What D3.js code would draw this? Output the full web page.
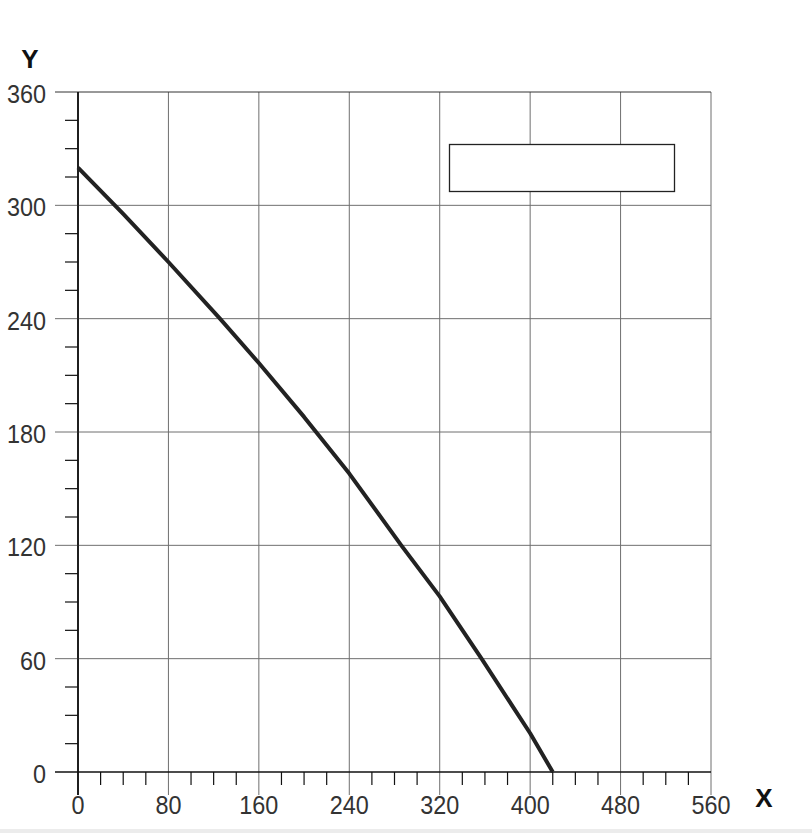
<!DOCTYPE html>
<html>
<head>
<meta charset="utf-8">
<script src="https://cdn.jsdelivr.net/npm/d3@7"></script>
<style>
  html, body { margin: 0; padding: 0; background: #fff; }
  svg { display: block; }
</style>
</head>
<body>
<script>
// Data
const curveX = [0, 40, 80, 125.6, 160, 200, 240, 286, 320, 357, 400, 420];
const curveY = [320, 295.5, 270, 240, 216.5, 188, 158, 120, 93, 60, 20.5, 0];
const xTicks = [0, 80, 160, 240, 320, 400, 480, 560];
const yTicks = [0, 60, 120, 180, 240, 300, 360];
const xMinor = d3.range(0, 561, 20);
const yMinor = d3.range(0, 361, 15);
const xTitle = "X";
const yTitle = "Y";

const W = 812, H = 833;
const svg = d3.select("body").append("svg").attr("width", W).attr("height", H);
svg.append("rect").attr("width", W).attr("height", H).attr("fill", "#fff");
svg.append("rect").attr("x", 0).attr("y", 829).attr("width", W).attr("height", 4).attr("fill", "#ececec");

const x = d3.scaleLinear().domain([0, 560]).range([78, 711]);
const y = d3.scaleLinear().domain([0, 360]).range([772, 92]);

const gridColor = "#6f6f6f";
const font = "Liberation Sans, Arial, sans-serif";
const sx = 0.9; // slight horizontal condensing of labels

// vertical grid lines (extend below axis as major ticks)
svg.append("g").selectAll("line").data(xTicks).join("line")
  .attr("x1", d => x(d)).attr("x2", d => x(d))
  .attr("y1", y(360)).attr("y2", y(0) + 23)
  .attr("stroke", d => d === 0 ? "#111" : gridColor)
  .attr("stroke-width", d => d === 0 ? 1.5 : 1);

// horizontal grid lines (extend left as major ticks)
svg.append("g").selectAll("line").data(yTicks).join("line")
  .attr("y1", d => y(d)).attr("y2", d => y(d))
  .attr("x1", x(0) - 23).attr("x2", x(560))
  .attr("stroke", d => d === 0 ? "#111" : (d === 360 ? "#333" : gridColor))
  .attr("stroke-width", d => d === 0 ? 1.5 : 1);

// minor ticks
svg.append("g").selectAll("line").data(xMinor.filter(d => d % 80 !== 0)).join("line")
  .attr("x1", d => x(d)).attr("x2", d => x(d))
  .attr("y1", y(0)).attr("y2", y(0) + 13)
  .attr("stroke", "#111").attr("stroke-width", 1.2);
svg.append("g").selectAll("line").data(yMinor.filter(d => d % 60 !== 0)).join("line")
  .attr("y1", d => y(d)).attr("y2", d => y(d))
  .attr("x1", x(0) - 13).attr("x2", x(0))
  .attr("stroke", "#111").attr("stroke-width", 1.2);

// left axis line
svg.append("line").attr("x1", x(0)).attr("x2", x(0)).attr("y1", y(360)).attr("y2", y(0) + 23)
  .attr("stroke", "#111").attr("stroke-width", 1.5);

// tick labels
svg.append("g").selectAll("text").data(xTicks).join("text")
  .attr("transform", d => `translate(${x(d)},807) scale(${sx},1)`)
  .attr("text-anchor", "middle").attr("dominant-baseline", "middle")
  .attr("font-family", font).attr("font-size", 26).attr("fill", "#333")
  .text(d => d);
svg.append("g").selectAll("text").data(yTicks).join("text")
  .attr("transform", d => `translate(46,${y(d) + 4}) scale(${sx},1)`)
  .attr("text-anchor", "end").attr("dominant-baseline", "middle")
  .attr("font-family", font).attr("font-size", 26).attr("fill", "#333")
  .text(d => d);

// axis titles
svg.append("text").attr("x", 30).attr("y", 61).attr("text-anchor", "middle")
  .attr("dominant-baseline", "middle").attr("font-family", font)
  .attr("font-size", 26).attr("font-weight", "bold").attr("fill", "#111").text(yTitle);
svg.append("text").attr("x", 764).attr("y", 800).attr("text-anchor", "middle")
  .attr("dominant-baseline", "middle").attr("font-family", font)
  .attr("font-size", 26).attr("font-weight", "bold").attr("fill", "#111").text(xTitle);

// legend box (empty)
svg.append("rect").attr("x", 449.5).attr("y", 144.5).attr("width", 225).attr("height", 47)
  .attr("fill", "#fff").attr("stroke", "#222").attr("stroke-width", 1.3);

// curve
const pts = curveX.map((d, i) => [d, curveY[i]]);
svg.append("path").datum(pts)
  .attr("d", d3.line().x(d => x(d[0])).y(d => y(d[1])))
  .attr("fill", "none").attr("stroke", "#222").attr("stroke-width", 4)
  .attr("stroke-linejoin", "round");
</script>
</body>
</html>
